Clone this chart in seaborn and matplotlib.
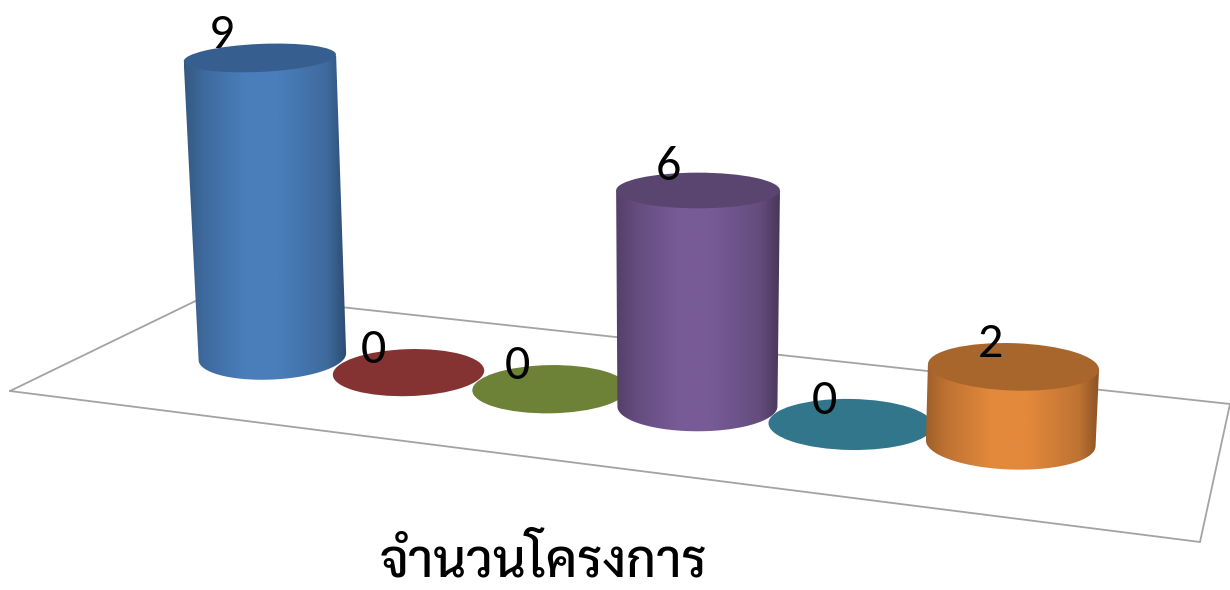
import matplotlib
matplotlib.use("Agg")
import numpy as np
import pandas as pd
import seaborn as sns
import matplotlib.pyplot as plt
from matplotlib.patches import Ellipse, PathPatch
from matplotlib.path import Path
from matplotlib.colors import to_rgb

# --- data ---
categories = ["a", "b", "c", "d", "e", "f"]
values = [9, 0, 0, 6, 0, 2]
title = "จำนวนโครงการ"

# --- colours ---
body_colors = ["#4a7ebb", "#be4b48", "#98b954", "#775b96", "#46aac5", "#e3893c"]
top_colors = ["#365f8f", "#843232", "#6d8237", "#5a4570", "#31768a", "#a8652c"]

W, H = 1230, 590

# floor corners in picture pixels: front left, front right, back right, back left
FLOOR = np.array([[10, 391], [1200, 542], [1230, 404], [212, 293]], dtype=float)
ROW_DEPTH = 0.495
ROW_CENTER = 0.497
ROW_STEP = 0.135


def floor_matrix(corners):
    # homography from the unit square to the floor
    src = [(0, 0), (1, 0), (1, 1), (0, 1)]
    A, b = [], []
    for (u, v), (x, y) in zip(src, corners):
        A.append([u, v, 1, 0, 0, 0, -u * x, -v * x])
        A.append([0, 0, 0, u, v, 1, -u * y, -v * y])
        b += [x, y]
    return np.append(np.linalg.solve(np.array(A), np.array(b)), 1).reshape(3, 3)


M = floor_matrix(FLOOR)


def on_floor(u, v):
    p = M @ np.array([u, v, 1.0])
    return p[:2] / p[2]


def shade(color, amount):
    return np.clip(np.array(to_rgb(color)) * amount, 0, 1)


def cylinder(ax, x0, y0, rx, value, body, top, z):
    unit = 0.45 * rx
    h = value * unit
    ry0 = 0.31 * rx
    tilt = np.radians((x0 - 697) * 0.006)
    if value == 0:
        ax.add_patch(Ellipse((x0, y0), 2 * rx, 2 * ry0, angle=np.degrees(tilt),
                             color=top, zorder=z, lw=0))
        return x0, y0

    xt = x0 + (x0 - 670) * 1.05e-4 * h
    yt = y0 - h
    rxt = rx * (1 + 1.1e-4 * h)
    ryt = ry0 * (1 - 1.3e-3 * h)

    # side of the cylinder: straight edges and the rounded bottom
    t = np.linspace(0, np.pi, 60)
    arc = np.c_[x0 + rx * np.cos(t), y0 + ry0 * np.sin(t)
                + rx * np.cos(t) * np.tan(tilt)]
    outline = np.vstack([[[xt + rxt, yt + rxt * np.tan(tilt)]], arc,
                         [[xt - rxt, yt - rxt * np.tan(tilt)]],
                         [[xt + rxt, yt + rxt * np.tan(tilt)]]])
    clip = PathPatch(Path(outline), transform=ax.transData, fc="none", ec="none")
    ax.add_patch(clip)

    stops = [0, 0.12, 0.38, 0.58, 0.88, 1]
    levels = [0.70, 0.84, 1.0, 1.0, 0.84, 0.60]
    xs = np.linspace(0, 1, 256)
    ramp = np.interp(xs, stops, levels)
    grad = np.array([shade(body, a) for a in ramp])[None, :, :]
    left, right = min(x0 - rx, xt - rxt), max(x0 + rx, xt + rxt)
    im = ax.imshow(grad, extent=[left, right, y0 + ry0 + 2, yt - 2], aspect="auto",
                   zorder=z, interpolation="bilinear")
    im.set_clip_path(clip)

    ax.add_patch(Ellipse((xt, yt), 2 * rxt, 2 * ryt, angle=np.degrees(tilt),
                         color=top, zorder=z + 0.1, lw=0))
    return xt, yt


sns.set_theme(style="white")
plt.rcParams["font.family"] = ["Carlito", "Open Sans", "DejaVu Sans"]

fig = plt.figure(figsize=(W / 100, H / 100), dpi=100)

# seaborn holds the values, the bars are then redrawn as cylinders on the floor
ax = fig.add_axes([0, 0, 1, 1])
df = pd.DataFrame({"cat": categories, "value": values})
sns.barplot(data=df, x="cat", y="value", hue="cat", palette=body_colors,
            legend=False, ax=ax)
ax.set_axis_off()
bars = list(ax.patches)[:len(values)]
for bar in bars:
    bar.set_visible(False)

scene = fig.add_axes([0, 0, 1, 1])
scene.set_axis_off()
scene.patch.set_alpha(0)

# floor outline
corners = np.vstack([FLOOR, FLOOR[0]])
scene.plot(corners[:, 0], corners[:, 1], color="#a3a3a3", lw=1.3, zorder=1,
           solid_joinstyle="miter", clip_on=True)

n = len(values)
for i, bar in enumerate(bars):
    value = bar.get_height()
    u = ROW_CENTER + (i - (n - 1) / 2) * ROW_STEP
    x0, y0 = on_floor(u, ROW_DEPTH)
    step = np.linalg.norm(on_floor(u + ROW_STEP / 2, ROW_DEPTH) - on_floor(u - ROW_STEP / 2, ROW_DEPTH))
    rx = 0.37 * step + 24
    xt, yt = cylinder(scene, x0, y0, rx, value, body_colors[i], top_colors[i], 2 + i)
    scene.text(xt - 38 + 0.02 * (xt - 263), yt - 23, f"{value:.0f}", fontsize=36,
               color="black", ha="center", va="center", zorder=20)

scene.text(543, 563, title, fontsize=37, color="black", ha="center", va="center",
           family=["Sarabun", "IBM Plex Sans Thai Looped", "DejaVu Sans"], weight="medium", zorder=20)

scene.set_xlim(0, W)
scene.set_ylim(H, 0)

fig.savefig("out.png", dpi=100)
